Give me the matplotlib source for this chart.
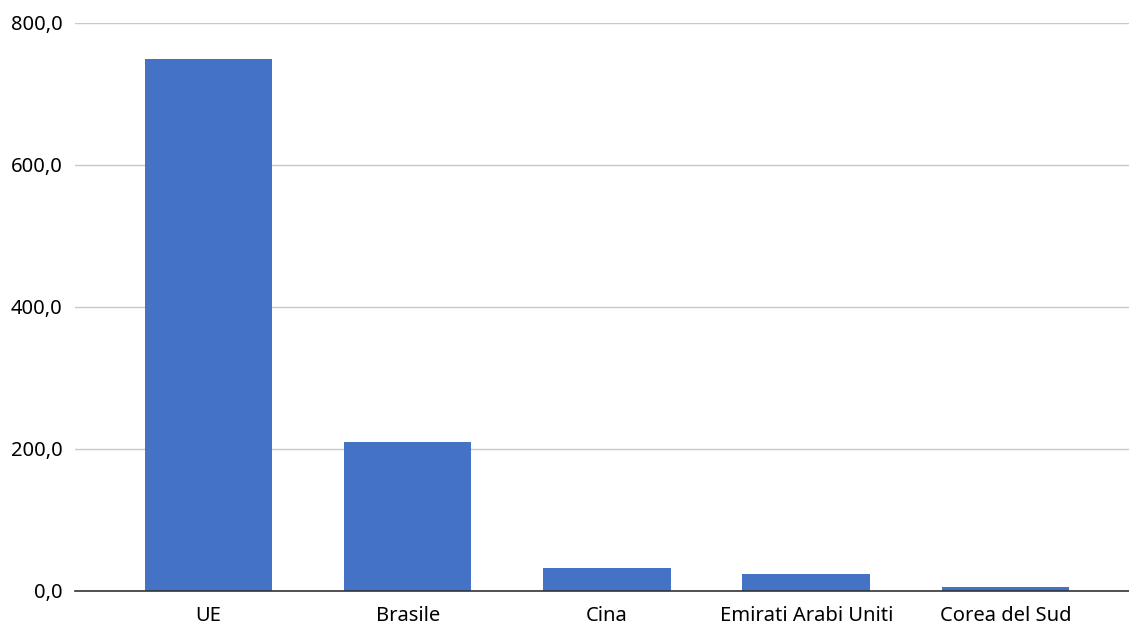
import matplotlib
matplotlib.use("Agg")
import matplotlib.pyplot as plt

categories = ["UE", "Brasile", "Cina", "Emirati Arabi Uniti", "Corea del Sud"]
values = [748.0, 209.0, 31.0, 23.0, 5.5]
yticks = [0, 200, 400, 600, 800]

plt.rcParams['font.family'] = ['Noto Sans', 'DejaVu Sans']

fig = plt.figure(figsize=(11.29, 6.26), dpi=100)
ax = fig.add_axes([75/1129, 35.5/626, 1 - 75/1129, (590.5 - 22.5)/626])

x = list(range(len(categories)))
ax.bar(x, values, width=0.64, color="#4472C4", zorder=3)

ax.set_xlim(-0.67, 4.62)
ax.set_ylim(0, 800)
ax.set_yticks(yticks)
ax.set_yticklabels([f"{v:.1f}".replace(".", ",") for v in yticks], fontsize=14.5)
ax.set_xticks(x)
ax.set_xticklabels(categories, fontsize=14.5)
ax.tick_params(axis="y", length=0, pad=9)
ax.tick_params(axis="x", length=0, pad=11)

ax.grid(axis="y", color="#c8c8c8", linewidth=1, zorder=0)
for s in ["top", "right", "left"]:
    ax.spines[s].set_visible(False)
ax.spines["bottom"].set_color("#333333")
ax.spines["bottom"].set_linewidth(1.2)
ax.spines["bottom"].set_zorder(4)

fig.savefig("out.png", dpi=100)
